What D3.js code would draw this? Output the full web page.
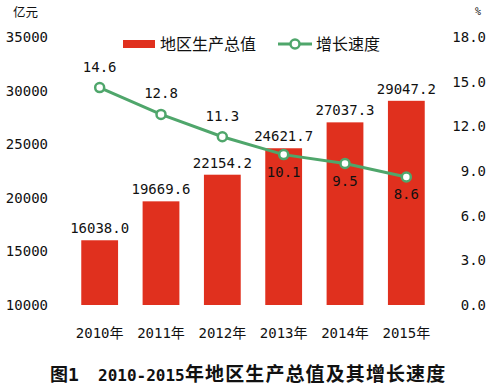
<!DOCTYPE html>
<html><head><meta charset="utf-8">
<script src="https://cdn.jsdelivr.net/npm/d3@7"></script>
<style>body{margin:0;background:#fff}</style>
</head><body>
<script>
const years = ["2010年","2011年","2012年","2013年","2014年","2015年"];
const gdp = [16038.0,19669.6,22154.2,24621.7,27037.3,29047.2];
const growth = [14.6,12.8,11.3,10.1,9.5,8.6];
const leftTicks = [10000,15000,20000,25000,30000,35000];
const rightTicks = [0,3,6,9,12,15,18];
const growthLabelBelow = [false,false,false,true,true,true];

const W=493,H=390;
const mono = "'DejaVu Sans Mono','Noto Sans CJK SC',monospace";
const svg=d3.select("body").append("svg").attr("width",W).attr("height",H);
const x=d3.scaleBand().domain(years).range([69,437]).paddingInner(0.4).paddingOuter(0.2);
const yL=d3.scaleLinear().domain([10000,35000]).range([305,37]);
const yR=d3.scaleLinear().domain([0,18]).range([305,37]);
const red="#e0301e", green="#4fa66b";

svg.append("g").selectAll("text").data(leftTicks).join("text")
 .attr("x",48).attr("y",d=>yL(d)).attr("dy","0.36em").attr("text-anchor","end")
 .style("font-family",mono).style("font-size","14px").attr("fill","#111").text(d=>d);
svg.append("g").selectAll("text").data(rightTicks).join("text")
 .attr("x",486).attr("y",d=>yR(d)).attr("dy","0.36em").attr("text-anchor","end")
 .style("font-family",mono).style("font-size","14px").attr("fill","#111").text(d=>d.toFixed(1));
svg.append("text").attr("x",13).attr("y",17).style("font-family","'Noto Sans CJK SC'").style("font-size","12.5px").attr("fill","#111").text("亿元");
svg.append("text").attr("x",478).attr("y",15).attr("text-anchor","middle").style("font-family",mono).style("font-size","10px").attr("fill","#111").text("%");

svg.append("g").selectAll("rect").data(gdp).join("rect")
 .attr("x",(d,i)=>x(years[i])).attr("width",x.bandwidth())
 .attr("y",d=>yL(d)).attr("height",d=>yL(10000)-yL(d)).attr("fill",red);
svg.append("g").selectAll("text").data(gdp).join("text")
 .attr("x",(d,i)=>x(years[i])+x.bandwidth()/2).attr("y",d=>yL(d)-7)
 .attr("text-anchor","middle").style("font-family",mono).style("font-size","14px").attr("fill","#111")
 .text(d=>d.toFixed(1));

const cx=(i)=>x(years[i])+x.bandwidth()/2;
svg.append("path").datum(growth).attr("fill","none").attr("stroke",green).attr("stroke-width",3)
 .attr("d",d3.line().x((d,i)=>cx(i)).y(d=>yR(d)));
svg.append("g").selectAll("circle").data(growth).join("circle")
 .attr("cx",(d,i)=>cx(i)).attr("cy",d=>yR(d)).attr("r",4.5)
 .attr("fill","#fff").attr("stroke",green).attr("stroke-width",2.5);
svg.append("g").selectAll("text").data(growth).join("text")
 .attr("x",(d,i)=>cx(i)).attr("y",(d,i)=>growthLabelBelow[i]?yR(d)+22:yR(d)-16)
 .attr("text-anchor","middle").style("font-family",mono).style("font-size","14px").attr("fill","#111")
 .text(d=>d.toFixed(1));

svg.append("g").selectAll("text").data(years).join("text")
 .attr("x",d=>x(d)+x.bandwidth()/2).attr("y",333).attr("dy","0.36em").attr("text-anchor","middle")
 .style("font-family",mono).style("font-size","14px").attr("fill","#111").text(d=>d);

svg.append("rect").attr("x",123).attr("y",40).attr("width",32).attr("height",8).attr("fill",red);
svg.append("text").attr("x",160).attr("y",44).attr("dy","0.36em").style("font-family","'Noto Sans CJK SC'").style("font-size","16px").attr("fill","#111").text("地区生产总值");
svg.append("line").attr("x1",278).attr("x2",312).attr("y1",44).attr("y2",44).attr("stroke",green).attr("stroke-width",3);
svg.append("circle").attr("cx",295).attr("cy",44).attr("r",4.5).attr("fill","#fff").attr("stroke",green).attr("stroke-width",2.5);
svg.append("text").attr("x",316).attr("y",44).attr("dy","0.36em").style("font-family","'Noto Sans CJK SC'").style("font-size","16px").attr("fill","#111").text("增长速度");

const t=svg.append("text").attr("y",375).attr("dy","0.36em").style("font-family",mono).style("font-weight","bold").attr("fill","#111");
t.append("tspan").attr("x",50).style("font-size","18px").text("图1");
t.append("tspan").attr("x",98).style("font-size","16px").text("2010-2015");
t.append("tspan").attr("x",185).style("font-size","19px").style("letter-spacing","1.1px").text("年地区生产总值及其增长速度");
</script>
</body></html>
